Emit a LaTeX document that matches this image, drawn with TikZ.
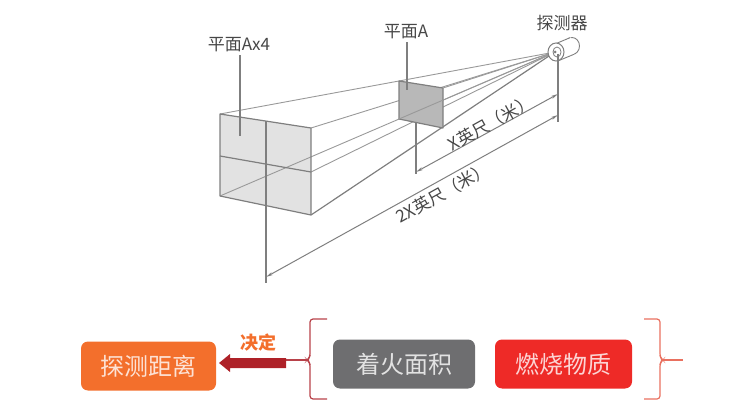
\documentclass[tikz,border=0pt]{standalone}
\usepackage{fontspec}
\setmainfont{Noto Sans CJK SC}
\usetikzlibrary{arrows.meta,calc}
\definecolor{lineg}{HTML}{7F7F7F}
\definecolor{faceg}{HTML}{E2E2E2}
\definecolor{smallg}{HTML}{B8B8B8}
\definecolor{orangebox}{HTML}{F36F2C}
\definecolor{greybox}{HTML}{6E6E70}
\definecolor{redbox}{HTML}{EE2A27}
\definecolor{darkred}{HTML}{AE2128}
\definecolor{bracketl}{HTML}{B8424A}
\definecolor{bracketr}{HTML}{E9705F}
\tikzset{
 edge/.style={draw=lineg,line width=1.2pt,line join=round},
 thin edge/.style={draw=lineg!80,line width=0.9pt},
 dim/.style={draw=lineg,line width=1pt,{Stealth[length=7pt,width=3pt,open]}-{Stealth[length=7pt,width=3pt,open]}},
 lab/.style={text=black!72,font=\fontsize{17}{17}\selectfont,inner sep=0pt},
 dimlab/.style={text=black!72,font=\fontsize{17}{17}\selectfont,inner sep=0pt,rotate=29},
 box/.style={rounded corners=7pt,minimum height=49pt,inner sep=0pt,font=\fontsize{24}{24}\selectfont},
}
\begin{document}
\begin{tikzpicture}[x=1pt,y=-1pt]
\useasboundingbox (0,0) rectangle (750,414);
% key points
\coordinate (apex) at (555,52);
\coordinate (TL) at (220,114); \coordinate (TR) at (311,128);
\coordinate (BR) at (311,215); \coordinate (BL) at (220,196);
\coordinate (ML) at (220,156); \coordinate (MR) at (311,172);
\coordinate (aTL) at (399,81); \coordinate (aTR) at (443,88);
\coordinate (aBR) at (443,128); \coordinate (aBL) at (399,119);
% faces
\fill[faceg] (TL) -- (TR) -- (BR) -- (BL) -- cycle;
% rays
\draw[thin edge] (BL) -- (apex);
\draw[thin edge] (MR) -- (apex);
\draw[thin edge] (TL) -- (aTL) -- (apex);
\draw[thin edge] (TR) -- (apex);
\draw[edge] (BR) -- (apex);
% plane A
\filldraw[fill=smallg,edge] (aTL) -- (aTR) -- (aBR) -- (aBL) -- cycle;
\draw[thin edge] (aTR) -- (apex);
\draw[thin edge] (aBL) -- (apex);
% box outline
\draw[edge] (TL) -- (TR) -- (BR) -- (BL) -- cycle;
\draw[edge] (ML) -- (MR);
% detector
\filldraw[fill=white,draw=lineg,line width=0.9pt] (572,46) ellipse (7.5 and 8.5);
\fill[white] (556,44) -- (571,37.5) -- (574,54.5) -- (560,60) -- cycle;
\draw[lineg,line width=0.9pt] (555,44) -- (570,37.7) (559,60.5) -- (574,54.3);
\filldraw[fill=white,draw=lineg,line width=1pt] (556,52) ellipse (8 and 9);
\draw[lineg,line width=0.8pt] (557,52) ellipse (4 and 5);
\fill[lineg] (555,52) circle (1.5);
% leaders and extension lines
\node[lab] (la4) at (239,45) {平面Ax4};
\node[lab] (la) at (406,32) {平面A};
\node[lab] (det) at (562,23) {探测器};
\coordinate (la4e) at (240,136);
\coordinate (lae) at (407,90);
\draw[edge] (la4.south -| la4e) ++(0,3) -- (la4e);
\draw[edge] (la.south -| lae) ++(0,3) -- (lae);
\coordinate (v1t) at (266,121); \coordinate (v1b) at (266,283);
\coordinate (v2t) at (416,122); \coordinate (v2b) at (416,174);
\coordinate (v3t) at (558,54);  \coordinate (v3b) at (558,122);
\draw[edge] (v1t) -- (v1b);
\draw[edge] (v2t) -- (v2b);
\draw[edge] (v3t) -- (v3b);
\coordinate (d1a) at (416,172); \coordinate (d1b) at (558,94);
\coordinate (d2a) at (266,277); \coordinate (d2b) at (558,115);
\draw[dim] (d1a) -- (d1b);
\draw[dim] (d2a) -- (d2b);
\node[dimlab] (xl) at (491,123) {X英尺（米）};
\node[dimlab] (xxl) at (443,193) {2X英尺（米）};
% bottom row
\node[box,fill=orangebox,text=white!80!orangebox,minimum width=135pt] (dist) at (148.5,366) {探测距离};
\node[box,fill=greybox,text=white!80!greybox,minimum width=142pt] (area) at (404,364) {着火面积};
\node[box,fill=redbox,text=white!80!redbox,minimum width=137pt] (mat) at (563.5,364) {燃烧物质};
\node[font=\bfseries\fontsize{18}{18}\selectfont,text=orangebox,inner sep=0pt] (jd) at (258,343) {决定};
\coordinate (lout) at (286,360);
\coordinate (rout) at (683,360);
\draw[bracketl,line width=1.2pt,rounded corners=3pt] (327,319) -- (310,319) -- (310,357) -- (307,360) -- (310,363) -- (310,399) -- (327,399);
\draw[bracketr,line width=1.2pt,rounded corners=3pt] (644,319) -- (660,319) -- (660,357) -- (663,360) -- (660,363) -- (660,399) -- (644,399);
\draw[bracketl,line width=1.2pt] (307,360) -- (lout);
\draw[bracketr,line width=1.2pt] (662,360) -- (rout);
\fill[darkred] (286,358) -- (230,358) -- (230,354) -- (219,363) -- (230,372) -- (230,368) -- (286,368) -- cycle;
\end{tikzpicture}
\end{document}
